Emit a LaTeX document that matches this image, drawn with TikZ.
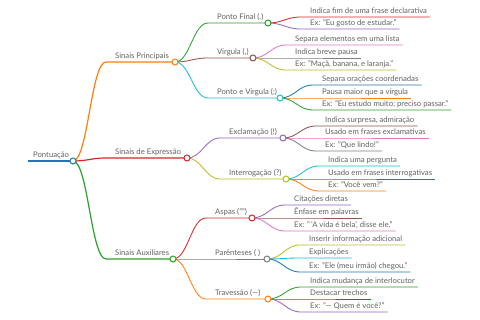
\documentclass[tikz,border=0pt]{standalone}
\usepackage{fontspec}
\setmainfont{Lato}
\definecolor{cblue}{HTML}{1F77B4}
\definecolor{corange}{HTML}{FF7F0E}
\definecolor{cgreen}{HTML}{2CA02C}
\definecolor{cred}{HTML}{D62728}
\definecolor{cpurple}{HTML}{9467BD}
\definecolor{cbrown}{HTML}{8C564B}
\definecolor{cpink}{HTML}{E377C2}
\definecolor{cgray}{HTML}{7F7F7F}
\definecolor{colive}{HTML}{BCBD22}
\definecolor{ccyan}{HTML}{17BECF}
\begin{document}
\begin{tikzpicture}[x=1pt, y=-1pt,
	txt/.style={anchor=base west, xshift=6pt, yshift=3.5pt, inner xsep=3pt, inner ysep=0pt, text=black!62, font=\fontsize{7.7}{8}\selectfont},
	dot/.style={circle, draw=#1, fill=white, line width=1pt, inner sep=0pt, minimum size=6pt},
	top/.style={line width=1.5pt, draw=#1},
	mid/.style={line width=1.2pt, draw=#1},
	leaf/.style={line width=0.85pt, draw=#1},
	link/.style={to path={.. controls +(15,0) and +(-15,0) .. (\tikztotarget)}}]
	\useasboundingbox (0,0) rectangle (480,320);
	% Root:
	\coordinate (root-s) at (28,161);
	\node[txt, xshift=-4pt] (root-t) at (root-s) {Pontuação};
	\draw[top=cblue] (root-s) -- (73,161) coordinate (root-c);
	% Level 1 and 2 (line start, text, circle):
	\coordinate (sp-s) at (106,62);   \node[txt] (sp-t) at (sp-s) {Sinais Principais};
	\coordinate (se-s) at (106,158);  \node[txt] (se-t) at (se-s) {Sinais de Expressão};
	\coordinate (sa-s) at (106,259);  \node[txt] (sa-t) at (sa-s) {Sinais Auxiliares};
	\coordinate (pf-s) at (208,23);   \node[txt] (pf-t) at (pf-s) {Ponto Final (.)};
	\coordinate (vi-s) at (208,58);   \node[txt] (vi-t) at (vi-s) {Vírgula (,)};
	\coordinate (pv-s) at (208,98);   \node[txt] (pv-t) at (pv-s) {Ponto e Vírgula (;)};
	\coordinate (ex-s) at (220,138);  \node[txt] (ex-t) at (ex-s) {Exclamação (!)};
	\coordinate (in-s) at (220,179);  \node[txt] (in-t) at (in-s) {Interrogação (?)};
	\coordinate (as-s) at (206,218);  \node[txt] (as-t) at (as-s) {Aspas ("")};
	\coordinate (pa-s) at (206,259);  \node[txt] (pa-t) at (pa-s) {Parênteses ( )};
	\coordinate (tr-s) at (206,299);  \node[txt] (tr-t) at (tr-s) {Travessão (—)};
	\draw[mid=corange] (root-c) to[link] (sp-s) -- (175,62) coordinate (sp-c);
	\draw[mid=cred] (root-c) to[link] (se-s) -- (187,158) coordinate (se-c);
	\draw[mid=cgreen] (root-c) to[link] (sa-s) -- (173,259) coordinate (sa-c);
	\draw[leaf=cgreen] (sp-c) to[link] (pf-s) -- (268,23) coordinate (pf-c);
	\draw[leaf=cbrown] (sp-c) to[link] (vi-s) -- (253,58) coordinate (vi-c);
	\draw[leaf=ccyan] (sp-c) to[link] (pv-s) -- (280,98) coordinate (pv-c);
	\draw[leaf=cpurple] (se-c) to[link] (ex-s) -- (283,138) coordinate (ex-c);
	\draw[leaf=colive] (se-c) to[link] (in-s) -- (286,179) coordinate (in-c);
	\draw[leaf=cred] (sa-c) to[link] (as-s) -- (252,218) coordinate (as-c);
	\draw[leaf=cgray] (sa-c) to[link] (pa-s) -- (267,259) coordinate (pa-c);
	\draw[leaf=corange] (sa-c) to[link] (tr-s) -- (268,299) coordinate (tr-c);
	% Leaves:
	\coordinate (pf1) at (301,17);  \node[txt] (pf1-t) at (pf1) {Indica fim de uma frase declarativa};
	\coordinate (pf2) at (301,29);  \node[txt] (pf2-t) at (pf2) {Ex: "Eu gosto de estudar."};
	\coordinate (vi1) at (286,45);  \node[txt] (vi1-t) at (vi1) {Separa elementos em uma lista};
	\coordinate (vi2) at (286,58);  \node[txt] (vi2-t) at (vi2) {Indica breve pausa};
	\coordinate (vi3) at (286,70);  \node[txt] (vi3-t) at (vi3) {Ex: "Maçã, banana, e laranja."};
	\coordinate (pv1) at (313,85);  \node[txt] (pv1-t) at (pv1) {Separa orações coordenadas};
	\coordinate (pv2) at (313,98);  \node[txt] (pv2-t) at (pv2) {Pausa maior que a vírgula};
	\coordinate (pv3) at (313,110); \node[txt] (pv3-t) at (pv3) {Ex: "Eu estudo muito; preciso passar."};
	\coordinate (ex1) at (316,126); \node[txt] (ex1-t) at (ex1) {Indica surpresa, admiração};
	\coordinate (ex2) at (316,138); \node[txt] (ex2-t) at (ex2) {Usado em frases exclamativas};
	\coordinate (ex3) at (316,151); \node[txt] (ex3-t) at (ex3) {Ex: "Que lindo!"};
	\coordinate (in1) at (319,166); \node[txt] (in1-t) at (in1) {Indica uma pergunta};
	\coordinate (in2) at (319,179); \node[txt] (in2-t) at (in2) {Usado em frases interrogativas};
	\coordinate (in3) at (319,191); \node[txt] (in3-t) at (in3) {Ex: "Você vem?"};
	\coordinate (as1) at (285,205); \node[txt] (as1-t) at (as1) {Citações diretas};
	\coordinate (as2) at (285,218); \node[txt] (as2-t) at (as2) {Ênfase em palavras};
	\coordinate (as3) at (285,231); \node[txt] (as3-t) at (as3) {Ex: "\,'A vida é bela', disse ele."};
	\coordinate (pa1) at (300,245); \node[txt] (pa1-t) at (pa1) {Inserir informação adicional};
	\coordinate (pa2) at (300,258); \node[txt] (pa2-t) at (pa2) {Explicações};
	\coordinate (pa3) at (300,272); \node[txt] (pa3-t) at (pa3) {Ex: "Ele (meu irmão) chegou."};
	\coordinate (tr1) at (301,287); \node[txt] (tr1-t) at (tr1) {Indica mudança de interlocutor};
	\coordinate (tr2) at (301,299); \node[txt] (tr2-t) at (tr2) {Destacar trechos};
	\coordinate (tr3) at (301,312); \node[txt] (tr3-t) at (tr3) {Ex: "— Quem é você?"};
	\draw[leaf=cred] (pf-c) to[link] (pf1) -- (pf1 -| pf1-t.east);
	\draw[leaf=cpurple] (pf-c) to[link] (pf2) -- (pf2 -| pf2-t.east);
	\draw[leaf=cpink] (vi-c) to[link] (vi1) -- (vi1 -| vi1-t.east);
	\draw[leaf=cgray] (vi-c) to[link] (vi2) -- (vi2 -| vi2-t.east);
	\draw[leaf=colive] (vi-c) to[link] (vi3) -- (vi3 -| vi3-t.east);
	\draw[leaf=cblue] (pv-c) to[link] (pv1) -- (pv1 -| pv1-t.east);
	\draw[leaf=corange] (pv-c) to[link] (pv2) -- (pv2 -| pv2-t.east);
	\draw[leaf=cgreen] (pv-c) to[link] (pv3) -- (pv3 -| pv3-t.east);
	\draw[leaf=cbrown] (ex-c) to[link] (ex1) -- (ex1 -| ex1-t.east);
	\draw[leaf=cpink] (ex-c) to[link] (ex2) -- (ex2 -| ex2-t.east);
	\draw[leaf=cgray] (ex-c) to[link] (ex3) -- (ex3 -| ex3-t.east);
	\draw[leaf=ccyan] (in-c) to[link] (in1) -- (in1 -| in1-t.east);
	\draw[leaf=cblue] (in-c) to[link] (in2) -- (in2 -| in2-t.east);
	\draw[leaf=corange] (in-c) to[link] (in3) -- (in3 -| in3-t.east);
	\draw[leaf=cpurple] (as-c) to[link] (as1) -- (as1 -| as1-t.east);
	\draw[leaf=cbrown] (as-c) to[link] (as2) -- (as2 -| as2-t.east);
	\draw[leaf=cpink] (as-c) to[link] (as3) -- (as3 -| as3-t.east);
	\draw[leaf=colive] (pa-c) to[link] (pa1) -- (pa1 -| pa1-t.east);
	\draw[leaf=ccyan] (pa-c) to[link] (pa2) -- (pa2 -| pa2-t.east);
	\draw[leaf=cblue] (pa-c) to[link] (pa3) -- (pa3 -| pa3-t.east);
	\draw[leaf=cgreen] (tr-c) to[link] (tr1) -- (tr1 -| tr1-t.east);
	\draw[leaf=cred] (tr-c) to[link] (tr2) -- (tr2 -| tr2-t.east);
	\draw[leaf=cpurple] (tr-c) to[link] (tr3) -- (tr3 -| tr3-t.east);
	% Circles on top:
	\node[dot=cblue] (root) at (root-c) {};
	\node[dot=corange] (sp) at (sp-c) {};
	\node[dot=cred] (se) at (se-c) {};
	\node[dot=cgreen] (sa) at (sa-c) {};
	\node[dot=cgreen] (pf) at (pf-c) {};
	\node[dot=cbrown] (vi) at (vi-c) {};
	\node[dot=ccyan] (pv) at (pv-c) {};
	\node[dot=cpurple] (ex) at (ex-c) {};
	\node[dot=colive] (in) at (in-c) {};
	\node[dot=cred] (as) at (as-c) {};
	\node[dot=cgray] (pa) at (pa-c) {};
	\node[dot=corange] (tr) at (tr-c) {};
\end{tikzpicture}
\end{document}
